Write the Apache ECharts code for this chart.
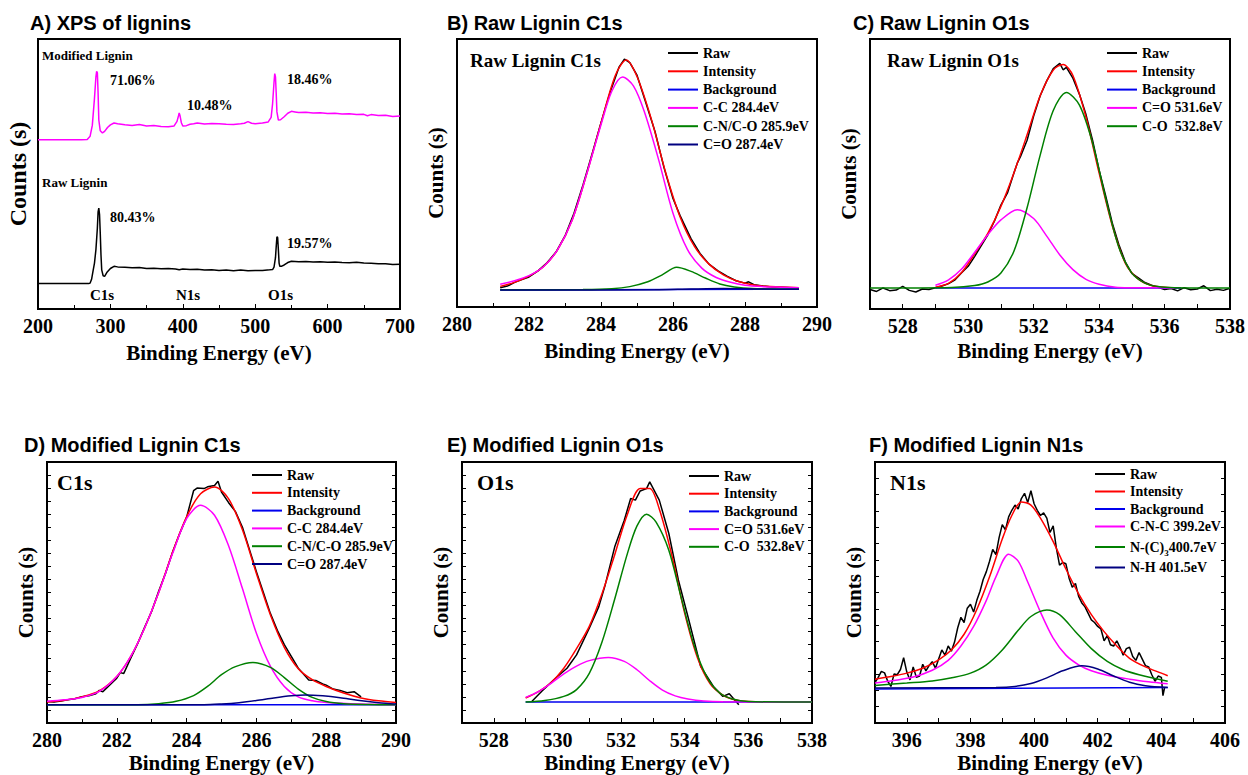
<!DOCTYPE html>
<html>
<head>
<meta charset="utf-8">
<title>XPS of lignins</title>
<script src="https://cdn.jsdelivr.net/npm/echarts@6/dist/echarts.min.js"></script>
<style>
  html, body { margin: 0; padding: 0; background: #fff; }
  #main { width: 1248px; height: 775px; }
</style>
</head>
<body>
<div id="main"></div>
<script>
// ---- A) survey spectra (y in % of plot height)
const aMod = [[200,62.7],[230,62.7],[260,62.7],[268,62.8],[272,64],[275,68],[278,78],[280,86],[281,88],[282,87.5],[283,80],[284,70],[286,66],[289,65.2],[292,65.8],[296,67.2],[300,68.2],[305,68.9],[310,68.6],[320,68.2],[330,68],[340,68.3],[350,67.8],[360,68],[370,67.6],[380,67.5],[388,67.8],[392,69.5],[394,71.5],[395,72.6],[396,71.8],[398,69],[400,67.8],[405,67.9],[410,68.4],[415,68.6],[420,68.9],[430,68.5],[440,68.7],[450,68.6],[460,68.4],[470,68.3],[480,68.6],[485,68.8],[490,69.4],[495,68.8],[500,68.6],[510,68.9],[518,69.3],[522,71],[524,76],[526,84],[527,87.2],[528,86],[529,80],[530,73],[532,70],[535,70.1],[540,71.2],[545,72.5],[550,73.2],[555,73],[560,72.8],[570,72.9],[580,72.6],[590,72.7],[600,72.4],[610,72.5],[620,72.2],[630,72.3],[640,72],[650,72.1],[655,71.6],[660,72],[670,71.7],[680,71.8],[690,71.3],[700,71.5]];
const aRaw = [[200,9.4],[240,9.4],[270,9.4],[272,9.6],[274,11],[276,14],[278,17],[280,22],[282,30],[283,36],[284,37.4],[285,35],[286,28],[287,20],[288,14.5],[290,12.3],[292,12.1],[295,13.5],[300,15],[305,15.8],[310,15.6],[320,15.5],[330,15.3],[340,15.4],[350,15],[360,15.1],[370,14.9],[380,15],[390,14.8],[395,14.5],[400,14.8],[410,14.6],[420,14.7],[430,14.4],[440,14.5],[450,14.3],[460,14.4],[470,14.2],[480,14.4],[490,14.2],[500,14.3],[510,14.3],[520,14.5],[524,14.6],[526,15.5],[528,19],[529,23],[530,26.7],[531,26.5],[532,22],[533,17],[534,15.8],[536,15.8],[540,16.3],[545,17.2],[550,17.7],[560,17.5],[570,17.6],[580,17.4],[590,17.5],[600,17.3],[610,17.4],[620,17.2],[630,17.1],[640,17.3],[650,17],[660,16.9],[670,16.8],[680,16.8],[690,16.5],[700,16.6]];

// ---- B) raw lignin C1s
const bRaw = [[281.2,7.2],[281.4,7.8],[281.6,9.2],[281.8,10.2],[282,11.2],[282.25,13.5],[282.5,16.5],[282.75,20.5],[283,26.5],[283.25,35],[283.5,45.5],[283.75,57],[284,68.8],[284.25,80],[284.5,89.5],[284.65,92.5],[284.8,91.2],[285,86.5],[285.25,76],[285.5,65.5],[285.75,52],[286,40.5],[286.2,34],[286.5,25.5],[286.75,20],[287,16],[287.25,13.5],[287.5,11.5],[287.75,9.8],[288,8.9],[288.1,9.4],[288.25,8.3],[288.5,7.8],[288.75,7.5],[289,7.4],[289.25,7.2],[289.5,7.1]];
const bFit = [[281.2,7.7],[281.6,9.2],[282,11.5],[282.4,15],[282.8,21.5],[283.2,32.5],[283.6,49.5],[284,68.6],[284.4,86.5],[284.7,92.2],[285,86],[285.4,70],[285.8,50],[286.2,33.5],[286.6,22.5],[287,16],[287.4,12],[287.8,9.6],[288.2,8.3],[288.6,7.7],[289,7.5],[289.5,7.2]];
const bBg = [[281.2,6.3],[289.5,6.7]];
const bCC = [[281.2,8.5],[281.6,9.8],[282,11.7],[282.4,15],[282.8,21.5],[283.2,32.5],[283.6,49.5],[284,68],[284.3,80.5],[284.6,85.8],[284.9,82.5],[285.2,73],[285.6,55],[286,35],[286.4,21.5],[286.8,14.5],[287.2,11],[287.6,9.2],[288,8.1],[288.5,7.6],[289,7.4],[289.5,7.2]];
const bCNO = [[281.2,6.4],[283.5,6.5],[284.3,6.8],[284.8,7.6],[285.3,9.4],[285.7,12],[286.1,14.8],[286.5,13.3],[286.9,10.8],[287.3,8.6],[287.7,7.5],[288.2,6.9],[289.5,6.6]];
const bCO = [[281.2,6.3],[285.5,6.4],[286.5,6.7],[287.4,6.9],[288.4,6.7],[289.5,6.6]];

// ---- C) raw lignin O1s
const cRaw = [[527,7.2],[527.2,6.5],[527.4,7.8],[527.6,6.8],[527.8,7],[528,8.4],[528.2,6.9],[528.4,6.3],[528.6,7.4],[528.8,7.2],[529,7.9],[529.2,8.5],[529.4,9.4],[529.6,10.8],[529.8,13.4],[530,15.8],[530.2,19.5],[530.4,23.5],[530.6,27.5],[530.8,32.5],[531,38.5],[531.2,43],[531.4,50.5],[531.5,54],[531.6,56.5],[531.8,62.5],[532,71.5],[532.2,79],[532.4,84.5],[532.6,89],[532.8,91],[532.9,88.6],[533,89.5],[533.2,85.5],[533.4,79.5],[533.6,72],[533.8,62.5],[534,51.5],[534.2,42],[534.4,32],[534.6,24],[534.8,17.5],[535,13.2],[535.2,11.5],[535.4,9.8],[535.6,8.8],[535.8,8],[536,7.2],[536.2,7.6],[536.4,6.7],[536.6,7.9],[536.8,7.1],[537,7.4],[537.2,8.6],[537.4,6.8],[537.6,7.3],[537.8,6.9],[538,7.7]];
const cFit = [[529,8.1],[529.4,9.5],[529.8,13.5],[530.2,20.5],[530.6,28],[531,38],[531.4,50.5],[531.8,64.5],[532.2,79],[532.6,88.5],[532.9,90.6],[533.2,86.5],[533.6,71],[534,50.4],[534.4,31],[534.8,17],[535.2,11],[535.6,8.7],[536,8.1],[536.5,7.8]];
const cBg = [[529,7.8],[536.5,7.8]];
const cCdO = [[529,8.8],[529.4,10.8],[529.8,14.8],[530.2,21],[530.6,27.5],[531,33],[531.5,36.8],[532,33.5],[532.4,27],[532.8,20],[533.2,14.6],[533.6,11],[534,9.2],[534.5,8.1],[535,7.9],[536.3,7.8]];
const cCO = [[527,7.8],[529.5,8],[530.2,8.7],[530.6,10],[531,13.3],[531.4,21.5],[531.8,37.5],[532.2,57],[532.6,73.5],[533,80.2],[533.4,75.5],[533.8,61.5],[534.2,41],[534.6,23],[535,13.3],[535.4,9.6],[535.8,8.3],[536.3,7.9],[538,7.8]];

// ---- D) modified lignin C1s
const dRaw = [[280,8.2],[280.2,8],[280.4,8.4],[280.6,8.9],[280.8,9.3],[281,10.1],[281.2,10.4],[281.4,11.2],[281.5,12.5],[281.6,12],[281.8,14.6],[282,17.2],[282.1,19.3],[282.2,19],[282.4,24.8],[282.6,30.5],[282.8,36.8],[283,42.8],[283.2,50.5],[283.4,57.5],[283.6,65.5],[283.8,72.5],[284,78.8],[284.2,89],[284.3,90],[284.5,89.8],[284.6,90.5],[284.8,91],[284.9,92.6],[285,88.5],[285.2,84.5],[285.4,81],[285.6,75],[285.8,66.5],[286,58],[286.2,50],[286.4,42],[286.6,35.5],[286.8,30],[287,25.5],[287.2,21],[287.4,18],[287.5,16.5],[287.7,16.3],[287.9,15],[288,14.5],[288.2,13],[288.4,12.5],[288.6,11.6],[288.8,12],[289,10]];
const dFit = [[280,8],[280.5,8.7],[281,10],[281.5,12.3],[282,17.8],[282.4,25.5],[282.8,36.5],[283.2,50],[283.6,65.5],[284,79],[284.4,87.8],[284.8,90.4],[285.2,86],[285.6,74],[286,57.3],[286.4,41.5],[286.8,29],[287.2,20.8],[287.6,16.6],[288,14],[288.5,11.5],[289,9.6],[289.5,8.5],[290,7.9]];
const dBg = [[280,7],[290,7]];
const dCC = [[280,8.3],[280.5,8.9],[281,9.8],[281.5,12.1],[282,17.8],[282.4,25.5],[282.8,36.5],[283.2,50],[283.6,65],[284,78.3],[284.4,83.4],[284.8,79.6],[285.2,68],[285.6,51.5],[286,34.4],[286.4,21.8],[286.8,14],[287.2,10],[287.6,8.5],[288,7.9],[289,7.3],[290,7]];
const dCNO = [[280,7],[282.6,7],[283.2,7.4],[283.7,8.3],[284.2,10.5],[284.6,14],[285,18.5],[285.4,21.6],[285.9,23.2],[286.4,21.3],[286.8,17.4],[287.2,13],[287.6,9.8],[288,8.2],[288.5,7.4],[289.2,7.1],[290,7]];
const dCO = [[280,7],[284.5,7],[285,7.3],[285.5,7.8],[286,8.6],[286.5,9.6],[287,10.4],[287.4,10.7],[287.9,10.4],[288.4,9.7],[288.9,8.7],[289.5,7.8],[290,7.3]];

// ---- E) modified lignin O1s
const eRaw = [[529.2,8.3],[529.5,12.1],[530,17.8],[530.3,21],[530.6,26.1],[531,36.3],[531.3,44.6],[531.5,52.9],[531.8,67.5],[532.1,77.7],[532.3,86],[532.45,85.4],[532.6,88.9],[532.8,89.8],[532.9,92.4],[533.2,85.4],[533.5,72.6],[533.8,54.8],[534.1,40.8],[534.5,21.7],[534.9,14],[535.2,10.2],[535.4,11.2],[535.7,7]];
const eFit = [[529,9.6],[529.4,12],[529.8,15.5],[530.2,21],[530.6,28.5],[531,37],[531.4,49.5],[531.8,64.5],[532.2,80],[532.6,89.8],[532.9,89.8],[533.2,82],[533.6,64],[534,42],[534.4,25],[534.8,15],[535.2,10.7],[535.6,8.8],[536,8.2],[537,8],[538,8]];
const eBg = [[529,8],[538,8]];
const eCdO = [[529,9.8],[529.4,12],[529.8,15.2],[530.2,18.8],[530.6,21.8],[531,23.9],[531.6,25.1],[532.1,23.6],[532.5,20.4],[532.9,16.2],[533.3,12.6],[533.7,10.4],[534.1,9.2],[534.6,8.4],[535.2,8.1],[538,8]];
const eCO = [[529,8],[529.6,8.6],[530.2,10.2],[530.6,12.8],[531,19],[531.4,31],[531.8,47.5],[532.2,65],[532.5,75.5],[532.8,80],[533.1,77],[533.5,66.2],[533.9,47.5],[534.3,29.5],[534.7,17.5],[535.1,11.5],[535.5,9.2],[536,8.2],[538,8]];

// ---- F) modified lignin N1s
const fRaw = [[395,15.5],[395.1,17.5],[395.2,19.8],[395.3,19.2],[395.4,16],[395.5,14],[395.6,18.8],[395.7,18.5],[395.8,20.5],[395.9,25],[396,19.5],[396.1,16.5],[396.2,21.5],[396.3,17.5],[396.4,18],[396.5,22.5],[396.6,20],[396.7,22],[396.8,23.5],[396.9,21],[397,24.5],[397.1,28],[397.2,26],[397.3,29.5],[397.4,27.5],[397.5,31],[397.6,36.5],[397.7,40.5],[397.8,38.5],[397.9,44],[398,45.5],[398.1,42.5],[398.2,47],[398.3,50.5],[398.4,55],[398.5,58],[398.6,62],[398.7,66.5],[398.8,64.5],[398.9,71],[399,76],[399.1,74],[399.2,79],[399.3,81.5],[399.4,83.5],[399.5,82],[399.6,86],[399.7,88],[399.8,84.5],[399.9,89],[400,84],[400.1,81.5],[400.2,79.5],[400.3,80.5],[400.4,78.5],[400.5,73],[400.6,75.5],[400.7,67],[400.8,60.5],[400.9,61.5],[401,61],[401.1,55.5],[401.2,52],[401.3,53.5],[401.4,48.5],[401.5,46],[401.6,44.5],[401.7,42],[401.8,39.5],[401.9,38.5],[402,37],[402.1,36],[402.2,31.5],[402.3,33.5],[402.4,30],[402.5,29.5],[402.6,31.5],[402.7,29],[402.8,26],[402.9,28.5],[403,29],[403.1,25.5],[403.2,24],[403.3,27],[403.4,24.5],[403.5,22],[403.6,21.5],[403.7,18.5],[403.8,16],[403.9,18],[404,17.5],[404.05,10.5],[404.1,13.5]];
const fFit = [[395,16.8],[395.5,17.8],[396,19.1],[396.5,21],[397,24.2],[397.4,28],[397.8,34],[398.2,43.5],[398.6,56],[399,70.5],[399.3,79.5],[399.6,84.7],[399.9,83.5],[400.2,78.5],[400.6,69.5],[401,59],[401.4,49.5],[401.8,41.5],[402.2,35],[402.6,29.5],[403,24.8],[403.5,21.5],[404,19.1],[404.2,18.1]];
const fBg = [[395,13],[404.2,13.6]];
const fCNC = [[395,15.3],[395.6,16.3],[396.2,17.6],[396.8,20.2],[397.3,24],[397.7,29.5],[398.1,37],[398.5,47],[398.8,56],[399.2,64.7],[399.5,62],[399.8,54],[400.2,42.5],[400.6,32.5],[401,26],[401.4,22.3],[401.8,20],[402.3,18.3],[403,16.8],[403.6,15.8],[404.2,15]];
const fNC3 = [[395,14.4],[396,15.3],[396.8,16.1],[397.5,17.5],[398,19.1],[398.5,22.3],[399,28],[399.5,35.5],[399.9,40.8],[400.4,43.3],[400.8,41.5],[401.3,35],[401.8,28.5],[402.3,23.6],[402.8,20.4],[403.3,18.5],[404.2,16]];
const fNH = [[395,13.4],[398.8,13.6],[399.4,14],[399.9,15.1],[400.4,17.3],[400.9,20],[401.5,21.9],[402,20.7],[402.5,18],[403,15.6],[403.5,14.3],[404.2,13.6]];

const BLACK = '#000000', RED = '#ff0000', BLUE = '#0000ee', MAG = '#ff00ff', GREEN = '#008000', NAVY = '#000080';
const SERIF = 'Liberation Serif';
const SANS = 'Liberation Sans';

// grid boxes [left, top, width, height]
const boxes = [
  [38, 39, 362, 270],
  [457, 39, 360, 268],
  [870, 39, 361, 270],
  [47, 462, 349, 261],
  [462, 462, 350, 261],
  [875, 462, 350, 261]
];

const chart = echarts.init(document.getElementById('main'), null, { renderer: 'svg' });

const grids = boxes.map(b => ({
  left: b[0], top: b[1], width: b[2], height: b[3],
  show: true, borderColor: '#000', borderWidth: 2, backgroundColor: 'transparent', containLabel: false
}));

function xAx (gi, min, max, interval, evenOnly, minor, nameGap) {
  return {
    gridIndex: gi, type: 'value', min: min, max: max, interval: interval,
    name: 'Binding Energy (eV)', nameLocation: 'middle', nameGap: nameGap,
    nameTextStyle: { fontFamily: SERIF, fontWeight: 'bold', fontSize: 21, color: '#000' },
    axisLine: { show: true, lineStyle: { color: '#000', width: 2 } },
    axisTick: { show: true, inside: true, length: 5, lineStyle: { color: '#000', width: 1 } },
    minorTick: { show: minor, splitNumber: 2, length: 4, lineStyle: { color: '#000', width: 1 } },
    axisLabel: {
      fontFamily: SERIF, fontWeight: 'bold', fontSize: 20, color: '#000', margin: 7,
      formatter: v => (evenOnly && v % 2 !== 0) ? '' : String(v)
    },
    splitLine: { show: false }
  };
}

function yAx (gi, nameGap, nameSize, step) {
  return {
    gridIndex: gi, type: 'value', min: 0, max: 100, interval: step || 10,
    name: 'Counts (s)', nameLocation: 'middle', nameGap: nameGap,
    nameTextStyle: { fontFamily: SERIF, fontWeight: 'bold', fontSize: nameSize, color: '#000' },
    axisLine: { show: false },
    axisTick: { show: !!step, inside: true, length: 4, lineStyle: { color: '#000', width: 1 } },
    axisLabel: { show: false },
    splitLine: { show: false }
  };
}

function yRight (gi, step) {
  return {
    gridIndex: gi, type: 'value', min: 0, max: 100, interval: step, position: 'right',
    axisLine: { show: false },
    axisTick: { show: true, inside: true, length: 4, lineStyle: { color: '#000', width: 1 } },
    axisLabel: { show: false }, splitLine: { show: false }
  };
}

const xAxes = [
  xAx(0, 200, 700, 100, false, true, 33),
  xAx(1, 280, 290, 2, false, true, 33),
  xAx(2, 527, 538, 1, true, false, 31),
  xAx(3, 280, 290, 2, false, true, 29),
  xAx(4, 527, 538, 1, true, false, 29),
  xAx(5, 395, 406, 1, true, false, 29)
];
const yAxes = [
  yAx(0, 8, 24), yAx(1, 11, 21), yAx(2, 11, 21),
  yAx(3, 11, 21, 5), yAx(4, 11, 21, 5), yAx(5, 11, 21, 6.25),
  yRight(3, 5), yRight(4, 5), yRight(5, 6.25)
];

function line (name, data, color, gi, smooth) {
  return {
    name: name, type: 'line', data: data, xAxisIndex: gi, yAxisIndex: gi,
    symbol: 'none', showSymbol: false, smooth: smooth ? 0.3 : false,
    lineStyle: { color: color, width: 1.5 }, itemStyle: { color: color },
    silent: true, animation: false
  };
}

const series = [
  line('Modified Lignin', aMod, MAG, 0, false),
  line('Raw Lignin', aRaw, BLACK, 0, false),

  line('Raw', bRaw, BLACK, 1, false),
  line('Intensity', bFit, RED, 1, true),
  line('Background', bBg, BLUE, 1, false),
  line('C-C 284.4eV', bCC, MAG, 1, true),
  line('C-N/C-O 285.9eV', bCNO, GREEN, 1, true),
  line('C=O 287.4eV', bCO, NAVY, 1, true),

  line('Raw', cRaw, BLACK, 2, false),
  line('Intensity', cFit, RED, 2, true),
  line('Background', cBg, BLUE, 2, false),
  line('C=O 531.6eV', cCdO, MAG, 2, true),
  line('C-O  532.8eV', cCO, GREEN, 2, true),

  line('Raw', dRaw, BLACK, 3, false),
  line('Intensity', dFit, RED, 3, true),
  line('Background', dBg, BLUE, 3, false),
  line('C-C 284.4eV', dCC, MAG, 3, true),
  line('C-N/C-O 285.9eV', dCNO, GREEN, 3, true),
  line('C=O 287.4eV', dCO, NAVY, 3, true),

  line('Raw', eRaw, BLACK, 4, false),
  line('Intensity', eFit, RED, 4, true),
  line('Background', eBg, BLUE, 4, false),
  line('C=O 531.6eV', eCdO, MAG, 4, true),
  line('C-O  532.8eV', eCO, GREEN, 4, true),

  line('Raw', fRaw, BLACK, 5, false),
  line('Intensity', fFit, RED, 5, true),
  line('Background', fBg, BLUE, 5, false),
  line('C-N-C 399.2eV', fCNC, MAG, 5, true),
  line('N-(C)3400.7eV', fNC3, GREEN, 5, true),
  line('N-H 401.5eV', fNH, NAVY, 5, true)
];

const legendText = { fontFamily: SERIF, fontWeight: 'bold', fontSize: 14, color: '#000', lineHeight: 14 };
function leg (names, left, top, gap) {
  return {
    data: names, orient: 'vertical', left: left, top: top, padding: 0,
    itemWidth: 30, itemHeight: 2, itemGap: gap, icon: 'rect', selectedMode: false,
    textStyle: Object.assign({}, legendText, {
      rich: { sub: { fontFamily: SERIF, fontWeight: 'bold', fontSize: 9, color: '#000', verticalAlign: 'bottom', lineHeight: 20 } }
    }),
    formatter: n => n === 'N-(C)3400.7eV' ? 'N-(C){sub|3}400.7eV' : n
  };
}
const legends = [
  leg(['Raw', 'Intensity', 'Background', 'C-C 284.4eV', 'C-N/C-O 285.9eV', 'C=O 287.4eV'], 668, 46, 4.3),
  leg(['Raw', 'Intensity', 'Background', 'C=O 531.6eV', 'C-O  532.8eV'], 1107, 46, 4.3),
  leg(['Raw', 'Intensity', 'Background', 'C-C 284.4eV', 'C-N/C-O 285.9eV', 'C=O 287.4eV'], 252, 468, 3.8),
  leg(['Raw', 'Intensity', 'Background', 'C=O 531.6eV', 'C-O  532.8eV'], 689, 469, 3.7),
  leg(['Raw', 'Intensity', 'Background', 'C-N-C 399.2eV', 'N-(C)3400.7eV', 'N-H 401.5eV'], 1095, 467, 3.5)
];

function txt (s, x, y, size, family) {
  return {
    type: 'text', x: x, y: y, silent: true,
    style: { text: s, fontFamily: family || SERIF, fontWeight: 'bold', fontSize: size, fill: '#000', align: 'left', verticalAlign: 'middle' }
  };
}
const texts = [
  txt('A) XPS of lignins', 30, 23, 20, SANS),
  txt('B) Raw Lignin C1s', 447, 23, 20, SANS),
  txt('C) Raw Lignin O1s', 853, 23, 20, SANS),
  txt('D) Modified Lignin C1s', 24, 445, 20, SANS),
  txt('E) Modified Lignin O1s', 447, 445, 20, SANS),
  txt('F) Modified Lignin N1s', 869, 445, 20, SANS),
  // survey annotations
  txt('Modified Lignin', 42, 55, 13),
  txt('71.06%', 110, 80, 14),
  txt('10.48%', 187, 105, 14),
  txt('18.46%', 287, 79, 14),
  txt('Raw Lignin', 42, 182, 13),
  txt('80.43%', 110, 217, 14),
  txt('19.57%', 287, 243, 14),
  txt('C1s', 90, 295, 15),
  txt('N1s', 176, 295, 15),
  txt('O1s', 268, 295, 15),
  // inner labels
  txt('Raw Lignin C1s', 470, 60, 19),
  txt('Raw Lignin O1s', 887, 60, 19),
  txt('C1s', 57, 482, 22),
  txt('O1s', 477, 482, 22),
  txt('N1s', 890, 482, 22)
];

chart.setOption({
  backgroundColor: '#fff',
  animation: false,
  textStyle: { fontFamily: SERIF, fontWeight: 'bold', color: '#000' },
  grid: grids,
  xAxis: xAxes,
  yAxis: yAxes,
  legend: legends,
  series: series,
  graphic: texts
});
</script>
</body>
</html>
